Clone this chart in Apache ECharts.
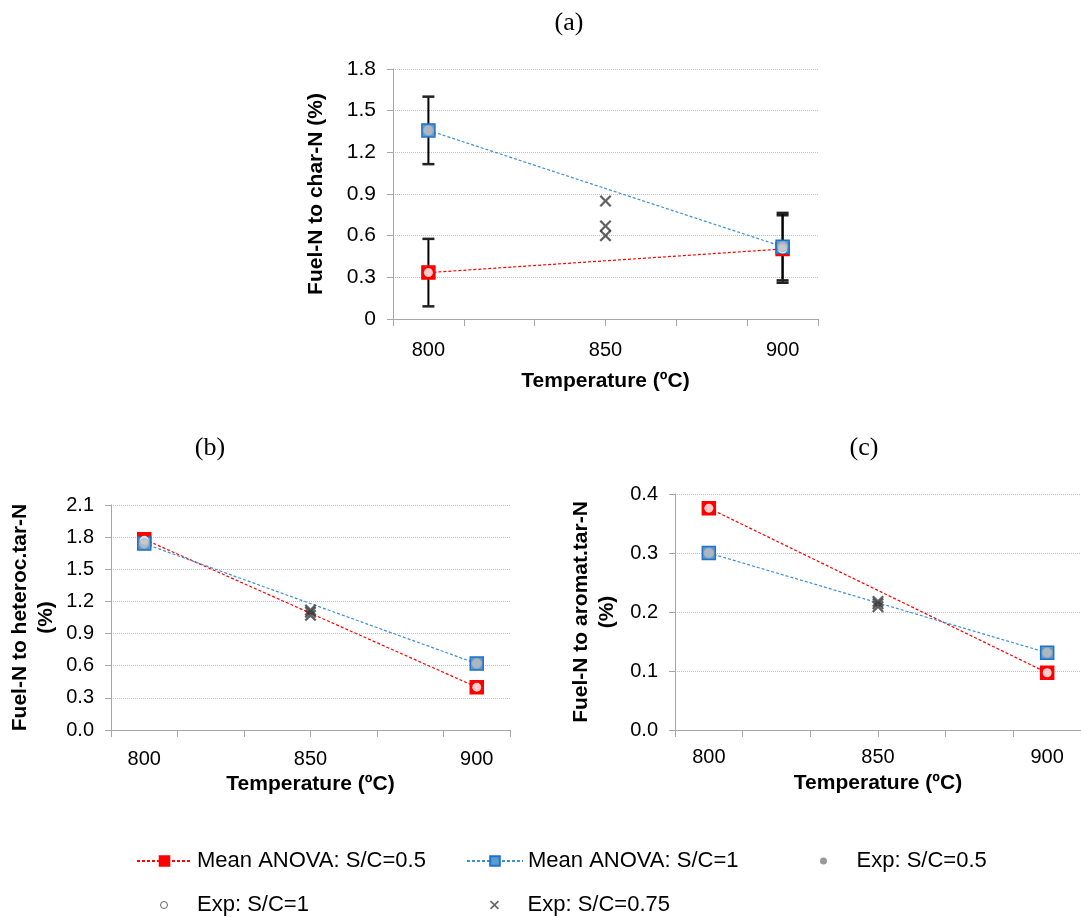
<!DOCTYPE html>
<html><head><meta charset="utf-8">
<script src="https://cdn.jsdelivr.net/npm/echarts@6/dist/echarts.min.js"></script>
<style>html,body{margin:0;padding:0;background:#fff}#c{width:1081px;height:917px}</style>
</head><body><div id="c"></div>
<script>
// ---- data ----
const temps = [800, 900];
const expTemp = 850;
const xTicks = [790, 810, 830, 850, 870, 890, 910];
const xLabels = [800, 850, 900];
const seriesNames = ['Mean ANOVA: S/C=0.5', 'Mean ANOVA: S/C=1', 'Exp: S/C=0.5', 'Exp: S/C=1', 'Exp: S/C=0.75'];
const panelTitles = ['(a)', '(b)', '(c)'];
const yNames = ['Fuel-N to char-N (%)', 'Fuel-N to heteroc.tar-N\n(%)', 'Fuel-N to aromat.tar-N\n(%)'];
const xName = 'Temperature (ºC)';
// panel (a)
const aMean05 = [0.334, 0.504];
const aMean1 = [1.358, 0.521];
const aErr05 = [0.243, 0.243];
const aErr1 = [0.243, 0.243];
const aExp05 = [1.358, 0.521];
const aExp1 = [0.334, 0.504];
const aExp075 = [0.85, 0.67, 0.60];
// panel (b)
const bMean05 = [1.78, 0.40];
const bMean1 = [1.74, 0.62];
const bExp05 = [1.74, 0.62];
const bExp1 = [1.77, 0.40];
const bExp075 = [1.12, 1.10, 1.07];
// panel (c)
const cMean05 = [0.376, 0.097];
const cMean1 = [0.300, 0.131];
const cExp05 = [0.300, 0.131];
const cExp1 = [0.376, 0.097];
const cExp075 = [0.218, 0.214, 0.209];
// y axes
const yMax = [1.8, 2.1, 0.4];
const yInterval = [0.3, 0.3, 0.1];

// ---- styles ----
const FONT = "'Liberation Sans', Arial, sans-serif";
const RED = '#FF0000', BLUE = '#5B9BD5', BLUE_B = '#1F72C4', BLUE_L = '#3D8FDA';
const X_PATH = 'path://M0,1.3L1.3,0L5,3.7L8.7,0L10,1.3L6.3,5L10,8.7L8.7,10L5,6.3L1.3,10L0,8.7L3.7,5Z';

const grids = [
  {left: 393, top: 69, width: 425, height: 250},
  {left: 111, top: 505, width: 399, height: 225},
  {left: 675, top: 494, width: 412, height: 236}
];
const yNameGap = [64, 52, 55];
const yLabelSize = [21, 20, 20];
const xLabelMargin = [21, 19, 17];
const xNameGap = [52, 44, 43];

const xAxes = grids.map((g, i) => ({
  gridIndex: i, type: 'value', min: 790, max: 910,
  name: xName, nameLocation: 'middle', nameGap: xNameGap[i],
  nameTextStyle: {fontFamily: FONT, fontSize: 21, fontWeight: 'bold', color: '#000'},
  axisLine: {show: true, lineStyle: {color: '#A6A6A6', width: 1}},
  axisTick: {show: true, customValues: xTicks, length: 7, lineStyle: {color: '#A6A6A6'}},
  axisLabel: {customValues: xLabels, margin: xLabelMargin[i], fontFamily: FONT, fontSize: 20, color: '#000'},
  splitLine: {show: false}
}));
const yAxes = grids.map((g, i) => ({
  gridIndex: i, type: 'value', min: 0, max: yMax[i], interval: yInterval[i],
  name: yNames[i], nameLocation: 'middle', nameGap: yNameGap[i], nameRotate: 90,
  nameTextStyle: {fontFamily: FONT, fontSize: 21, fontWeight: 'bold', color: '#000', lineHeight: 26, align: 'center'},
  axisLine: {show: true, lineStyle: {color: '#A6A6A6', width: 1}},
  axisTick: {show: true, length: 6, lineStyle: {color: '#A6A6A6'}},
  axisLabel: {margin: 17, fontFamily: FONT, fontSize: yLabelSize[i], color: '#000',
    formatter: v => (i === 0 ? (v === 0 ? '0' : v.toFixed(1)) : v.toFixed(1))},
  splitLine: {show: true, lineStyle: {color: '#BFBFBF', type: 'dotted', width: 1}}
}));

function errSeries(idx, mean, err) {
  return {
    type: 'custom', xAxisIndex: idx, yAxisIndex: idx, z: 2, silent: true,
    data: temps.map((t, i) => [t, mean[i] - err[i], mean[i] + err[i]]),
    encode: {x: 0, y: [1, 2]},
    renderItem: (params, api) => {
      const x = api.value(0);
      const lo = api.coord([x, api.value(1)]);
      const hi = api.coord([x, api.value(2)]);
      const w = 6;
      const st = {stroke: '#000', lineWidth: 2};
      return {type: 'group', children: [
        {type: 'line', shape: {x1: hi[0], y1: hi[1], x2: lo[0], y2: lo[1]}, style: st},
        {type: 'line', shape: {x1: hi[0] - w, y1: hi[1], x2: hi[0] + w, y2: hi[1]}, style: {stroke: '#222', lineWidth: 2.5}},
        {type: 'line', shape: {x1: lo[0] - w, y1: lo[1], x2: lo[0] + w, y2: lo[1]}, style: {stroke: '#222', lineWidth: 2.5}}
      ]};
    }
  };
}

function panelSeries(idx, m05, m1, e05, e1, e075) {
  return [
    {name: seriesNames[0], type: 'line', xAxisIndex: idx, yAxisIndex: idx, z: 3,
     data: temps.map((t, i) => [t, m05[i]]), symbol: 'rect', symbolSize: 13,
     itemStyle: {color: RED, borderColor: RED, borderWidth: 1.5},
     lineStyle: {color: RED, width: 1.2, type: [3, 2]}},
    {name: seriesNames[1], type: 'line', xAxisIndex: idx, yAxisIndex: idx, z: 3,
     data: temps.map((t, i) => [t, m1[i]]), symbol: 'rect', symbolSize: 13,
     itemStyle: {color: BLUE, borderColor: BLUE_B, borderWidth: 1.5},
     lineStyle: {color: BLUE_L, width: 1.2, type: [3, 2]}},
    {name: seriesNames[3], type: 'scatter', xAxisIndex: idx, yAxisIndex: idx, z: 4,
     data: temps.map((t, i) => [t, e1[i]]), symbol: 'circle', symbolSize: 9,
     itemStyle: {color: '#FFFFFF', borderColor: '#FFFFFF', borderWidth: 0}},
    {name: seriesNames[2], type: 'scatter', xAxisIndex: idx, yAxisIndex: idx, z: 4,
     data: temps.map((t, i) => [t, e05[i]]), symbol: 'circle', symbolSize: 10,
     itemStyle: {color: '#BFBFBF', borderColor: '#A6A6A6', borderWidth: 0.8}},
    {name: seriesNames[4], type: 'scatter', xAxisIndex: idx, yAxisIndex: idx, z: 4,
     data: e075.map(v => [expTemp, v]), symbol: X_PATH, symbolSize: 12,
     itemStyle: {color: '#3A3A3A'}}
  ];
}

const series = [
  errSeries(0, aMean05, aErr05),
  errSeries(0, aMean1, aErr1),
  ...panelSeries(0, aMean05, aMean1, aExp05, aExp1, aExp075),
  ...panelSeries(1, bMean05, bMean1, bExp05, bExp1, bExp075),
  ...panelSeries(2, cMean05, cMean1, cExp05, cExp1, cExp075)
];

const legendText = {fontFamily: FONT, fontSize: 22, color: '#000', lineHeight: 24};
function leg(name, left, top, w, h, extra) {
  return {data: [Object.assign({name: name}, extra || {})], left: left, top: top, padding: 0,
    itemWidth: w, itemHeight: h, selectedMode: false, textStyle: legendText};
}
const legends = [
  leg(seriesNames[0], 136, 849, 55, 12),
  leg(seriesNames[1], 466, 849, 56, 12),
  leg(seriesNames[2], 820, 849, 56, 7, {icon: 'circle', itemStyle: {color: '#7F7F7F', borderColor: '#7F7F7F', borderWidth: 0}}),
  leg(seriesNames[3], 160, 893, 56, 7, {icon: 'circle', itemStyle: {color: '#FFFFFF', borderColor: '#404040', borderWidth: 1}}),
  leg(seriesNames[4], 490, 893, 56, 9, {icon: X_PATH, itemStyle: {color: '#404040'}})
];

const titlePos = [[569, 23], [210, 448], [864, 448]];
const graphic = panelTitles.map((t, i) => ({
  type: 'text', x: titlePos[i][0], y: titlePos[i][1], silent: true,
  style: {text: t, font: "26px 'Liberation Serif', 'Times New Roman', serif", fill: '#000',
          textAlign: 'center', textVerticalAlign: 'middle'}
}));

const chart = echarts.init(document.getElementById('c'));
chart.setOption({
  animation: false,
  backgroundColor: '#fff',
  grid: grids,
  xAxis: xAxes,
  yAxis: yAxes,
  legend: legends,
  graphic: graphic,
  series: series
});
</script></body></html>
